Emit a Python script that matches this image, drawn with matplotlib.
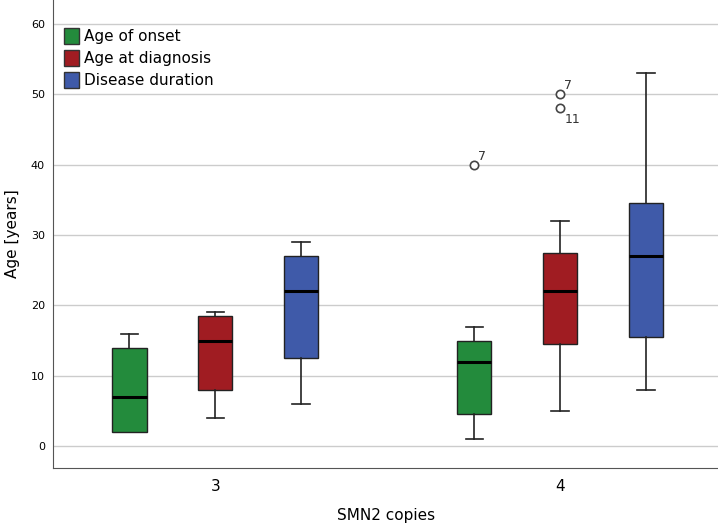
import matplotlib
matplotlib.use('Agg')
import matplotlib.pyplot as plt
from matplotlib.patches import Patch

# data
groups = ['3', '4']
series = ['Age of onset', 'Age at diagnosis', 'Disease duration']
colors = ['#238b3c', '#a01c22', '#3f5aa9']

# per group, per series: (whislo, q1, med, q3, whishi)
stats_3 = [(2, 2, 7, 14, 16), (4, 8, 15, 18.5, 19), (6, 12.5, 22, 27, 29)]
stats_4 = [(1, 4.5, 12, 15, 17), (5, 14.5, 22, 27.5, 32), (8, 15.5, 27, 34.5, 53)]
outliers_4 = [[40], [50, 48], []]
outlier_ids_4 = [['7'], ['7', '11'], []]

offsets = [-0.249, 0.0, 0.249]
box_w = 0.1

fig = plt.figure(figsize=(7.18, 5.27), dpi=100)
ax = fig.add_axes([0.074, 0.112, 0.926, 0.888])

for gi, (st, outs, ids) in enumerate([(stats_3, [[], [], []], [[], [], []]),
                                      (stats_4, outliers_4, outlier_ids_4)]):
    for si in range(3):
        lo, q1, med, q3, hi = st[si]
        pos = gi + offsets[si]
        bp = ax.bxp([dict(whislo=lo, q1=q1, med=med, q3=q3, whishi=hi, fliers=outs[si])],
                    positions=[pos], widths=box_w, patch_artist=True, manage_ticks=False,
                    boxprops=dict(facecolor=colors[si], edgecolor='#222222', linewidth=1),
                    medianprops=dict(color='black', linewidth=2.2),
                    whiskerprops=dict(color='#222222', linewidth=1.2),
                    capprops=dict(color='#222222', linewidth=1.2),
                    capwidths=box_w * 0.5,
                    flierprops=dict(marker='o', markerfacecolor='white', markeredgecolor='#444444',
                                    markersize=6, markeredgewidth=1.2))
        if lo == q1:
            bp['caps'][0].set_visible(False)
        for v, lab in zip(outs[si], ids[si]):
            if lab == '11':
                ax.text(pos + 0.012, v - 0.6, lab, fontsize=9, color='#333333', ha='left', va='top')
            else:
                ax.text(pos + 0.012, v + 0.3, lab, fontsize=9, color='#333333', ha='left', va='bottom')

ax.set_xlim(-0.47, 1.458)
ax.set_ylim(-3.1, 63.4)
ax.set_xticks([0, 1])
ax.set_xticklabels(groups, fontsize=11)
ax.set_yticks(range(0, 61, 10))
ax.tick_params(axis='y', labelsize=8, length=0, pad=6)
ax.tick_params(axis='x', length=0, pad=8)
ax.yaxis.grid(True, color='#cccccc', linewidth=1)
ax.set_axisbelow(True)
for s in ['top', 'right']:
    ax.spines[s].set_visible(False)
for s in ['left', 'bottom']:
    ax.spines[s].set_color('#555555')
ax.set_xlabel('SMN2 copies', fontsize=11, labelpad=10)
ax.set_ylabel('Age [years]', fontsize=11, labelpad=8)

handles = [Patch(facecolor=c, edgecolor='#333333', label=l) for c, l in zip(colors, series)]
ax.legend(handles=handles, loc='upper left', bbox_to_anchor=(0.0, 0.962), frameon=False,
          fontsize=11, handlelength=1.0, handleheight=1.2, handletextpad=0.3,
          labelspacing=0.38, borderaxespad=0.3)

fig.savefig('out.png', dpi=100)
